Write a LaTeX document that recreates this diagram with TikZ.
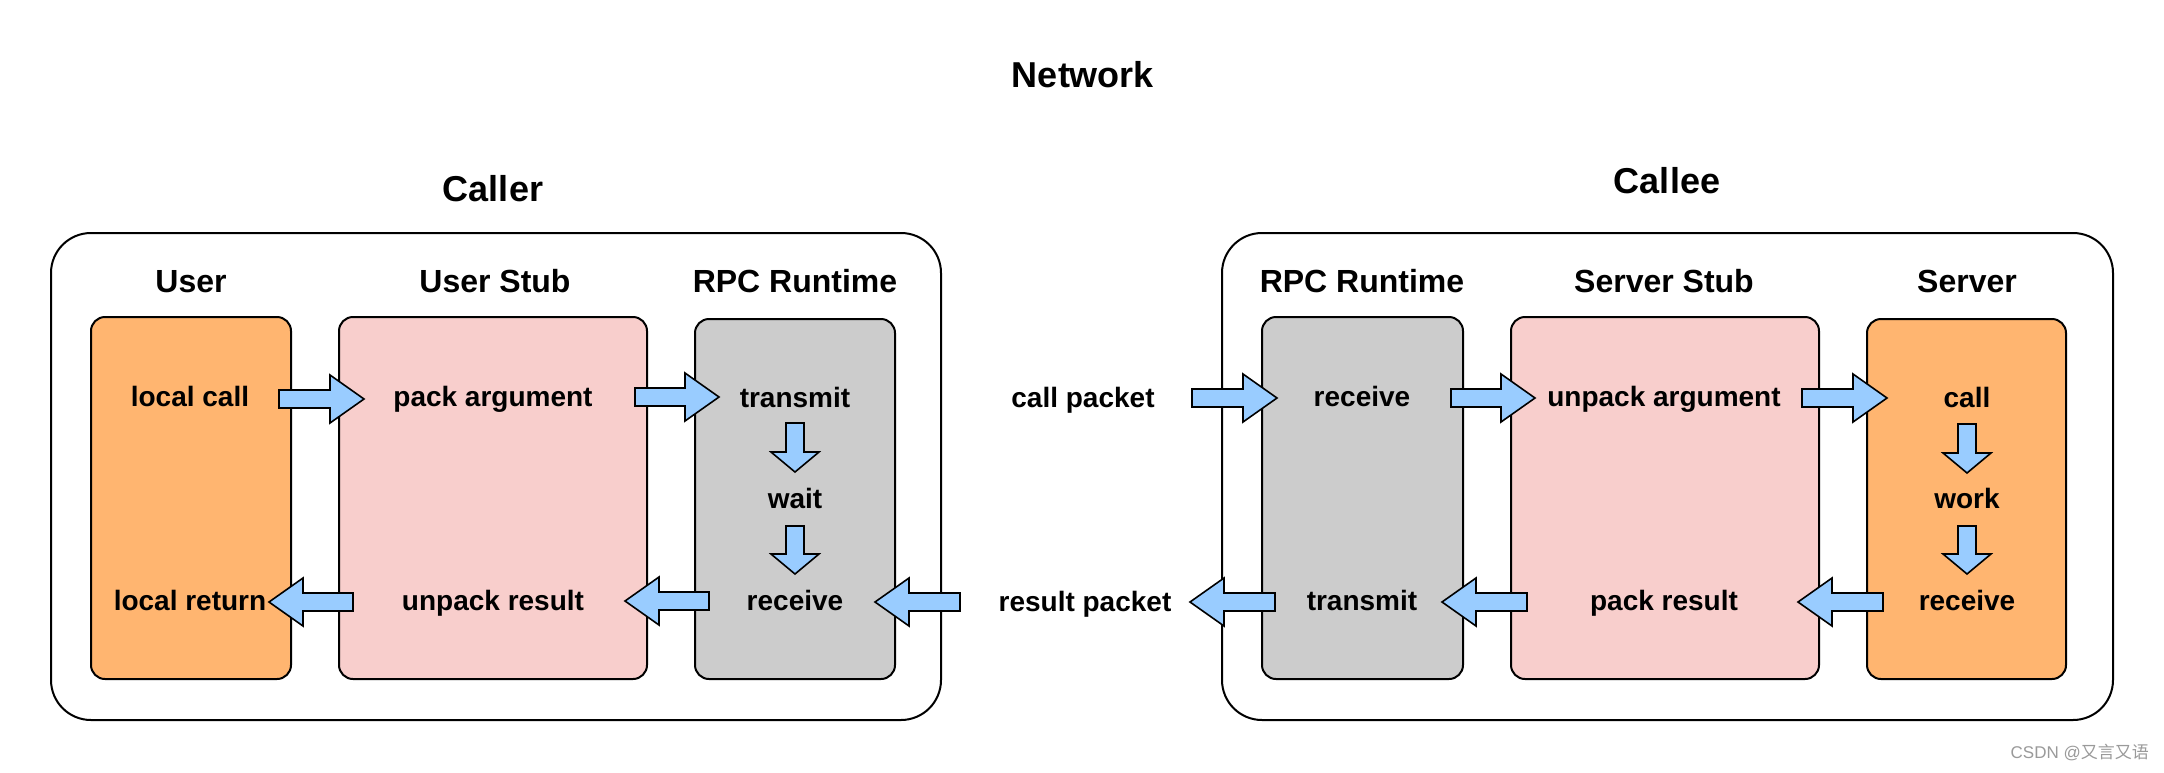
\documentclass[tikz,border=0pt]{standalone}
\usepackage{fontspec}
\setmainfont{Liberation Sans}
\newfontfamily\cjkfont{Noto Sans CJK SC}
\usetikzlibrary{calc}
\definecolor{orangeF}{HTML}{FFB570}
\definecolor{pinkF}{HTML}{F8CECC}
\definecolor{grayF}{HTML}{CCCCCC}
\definecolor{blueF}{HTML}{99CCFF}
\definecolor{wmark}{HTML}{9A9A9A}
\newcommand\blockarr[3]{%
  \coordinate (ba-h) at ($(#2)!#3!(#1)$);
  \filldraw[barrow] ($(#1)!9pt!90:(#2)$) -- ($(ba-h)!9pt!90:(#2)$) -- ($(ba-h)!24pt!90:(#2)$) -- (#2)
    -- ($(ba-h)!24pt!-90:(#2)$) -- ($(ba-h)!9pt!-90:(#2)$) -- ($(#1)!9pt!-90:(#2)$) -- cycle;}
\begin{document}
\begin{tikzpicture}[x=1pt,y=-1pt,
  outerbox/.style={draw=black,line width=2pt,rounded corners=40pt,fill=white,inner sep=0pt},
  lane/.style={draw=black,line width=2pt,rounded corners=14pt,inner sep=0pt},
  barrow/.style={fill=blueF,draw=black,line width=1.6pt,line join=miter},
  title/.style={font=\fontsize{36}{42}\selectfont\bfseries,text height=0.75em,text depth=0.25em},
  head/.style={font=\fontsize{32}{38}\selectfont\bfseries,text height=0.75em,text depth=0.25em},
  txt/.style={font=\fontsize{28}{34}\selectfont\bfseries,text height=0.75em,text depth=0.25em}]
\useasboundingbox (0,0) rectangle (2164,772);
\fill[white] (0,0) rectangle (2164,772);
% titles
\node[title] (network) at (1083,85) {Network};
\node[title] (caller) at (493,199) {Caller};
\node[title] (callee) at (1667,191) {Callee};
% outer boxes
\node[outerbox,minimum width=890pt,minimum height=487pt] (leftbox) at (496,476.5) {};
\node[outerbox,minimum width=891pt,minimum height=487pt] (rightbox) at (1667.5,476.5) {};
% lanes
\node[lane,fill=orangeF,minimum width=200pt,minimum height=362pt] (user) at (191,498) {};
\node[lane,fill=pinkF,minimum width=308pt,minimum height=362pt] (ustub) at (493,498) {};
\node[lane,fill=grayF,minimum width=200pt,minimum height=360pt] (lrpc) at (795,499) {};
\node[lane,fill=grayF,minimum width=201pt,minimum height=362pt] (rrpc) at (1362.5,498) {};
\node[lane,fill=pinkF,minimum width=308pt,minimum height=362pt] (sstub) at (1665,498) {};
\node[lane,fill=orangeF,minimum width=199pt,minimum height=360pt] (server) at (1966.5,499) {};
% headers
\node[head] (hUser) at (191,290) {User};
\node[head] (hUStub) at (495,290) {User Stub};
\node[head] (hLRpc) at (795,290) {RPC Runtime};
\node[head] (hRRpc) at (1362,290) {RPC Runtime};
\node[head] (hSStub) at (1664,290) {Server Stub};
\node[head] (hServer) at (1967,290) {Server};
% texts
\node[txt] (localcall) at (190,404) {local call};
\node[txt] (localret) at (190,608) {local return};
\node[txt] (packarg) at (493,404) {pack argument};
\node[txt] (unpackres) at (493,608) {unpack result};
\node[txt] (ltransmit) at (795,405) {transmit};
\node[txt] (lwait) at (795,506) {wait};
\node[txt] (lreceive) at (795,608) {receive};
\node[txt] (callpacket) at (1083,405) {call packet};
\node[txt] (resultpacket) at (1085,609) {result packet};
\node[txt] (rreceive) at (1362,404) {receive};
\node[txt] (rtransmit) at (1362,608) {transmit};
\node[txt] (unpackarg) at (1664,404) {unpack argument};
\node[txt] (packres) at (1664,608) {pack result};
\node[txt] (scall) at (1967,405) {call};
\node[txt] (swork) at (1967,506) {work};
\node[txt] (sreceive) at (1967,608) {receive};
% arrow end points
\coordinate (a1s) at (279,399); \coordinate (a1e) at (364,399);
\coordinate (a2s) at (635,397); \coordinate (a2e) at (719,397);
\coordinate (a3s) at (795,423); \coordinate (a3e) at (795,472);
\coordinate (a4s) at (795,526); \coordinate (a4e) at (795,574);
\coordinate (a5s) at (960,602); \coordinate (a5e) at (875,602);
\coordinate (a6s) at (709,601); \coordinate (a6e) at (625,601);
\coordinate (a7s) at (353,602); \coordinate (a7e) at (269,602);
\coordinate (b1s) at (1192,398); \coordinate (b1e) at (1277,398);
\coordinate (b2s) at (1451,398); \coordinate (b2e) at (1535,398);
\coordinate (b3s) at (1802,398); \coordinate (b3e) at (1887,398);
\coordinate (b4s) at (1967,424); \coordinate (b4e) at (1967,473);
\coordinate (b5s) at (1967,526); \coordinate (b5e) at (1967,574);
\coordinate (b6s) at (1883,602); \coordinate (b6e) at (1798,602);
\coordinate (b7s) at (1527,602); \coordinate (b7e) at (1442,602);
\coordinate (b8s) at (1275,602); \coordinate (b8e) at (1190,602);
\blockarr{a1s}{a1e}{34pt}
\blockarr{a2s}{a2e}{34pt}
\blockarr{a3s}{a3e}{20pt}
\blockarr{a4s}{a4e}{20pt}
\blockarr{a5s}{a5e}{34pt}
\blockarr{a6s}{a6e}{34pt}
\blockarr{a7s}{a7e}{34pt}
\blockarr{b1s}{b1e}{34pt}
\blockarr{b2s}{b2e}{34pt}
\blockarr{b3s}{b3e}{34pt}
\blockarr{b4s}{b4e}{20pt}
\blockarr{b5s}{b5e}{20pt}
\blockarr{b6s}{b6e}{34pt}
\blockarr{b7s}{b7e}{34pt}
\blockarr{b8s}{b8e}{34pt}
% watermark
\node[anchor=east,text=wmark,font=\fontsize{17}{20}\selectfont,inner sep=0pt] (wm) at (2149,753) {CSDN @{\cjkfont 又言又语}};
\end{tikzpicture}
\end{document}
